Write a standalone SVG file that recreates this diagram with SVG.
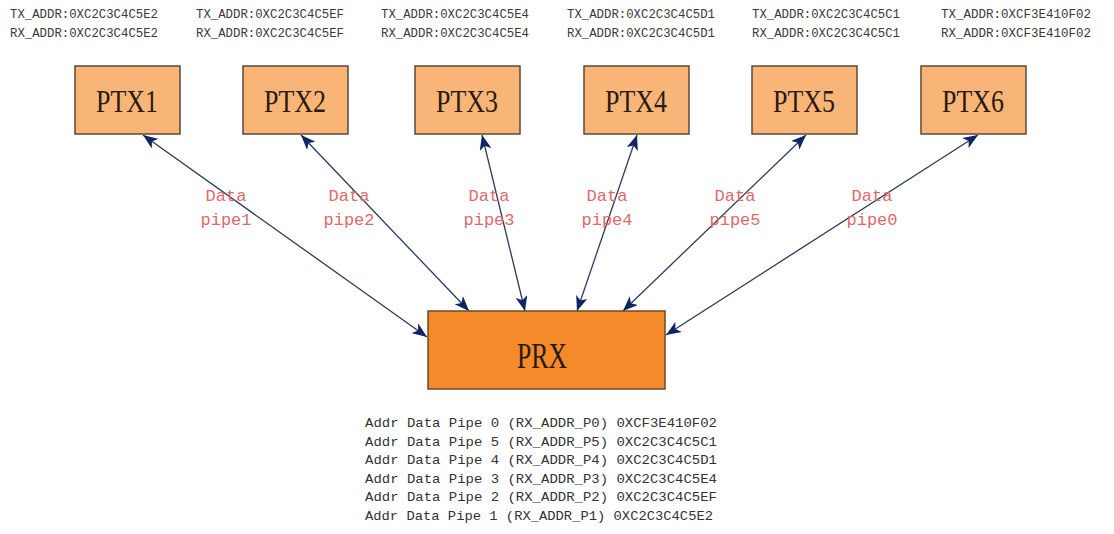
<svg xmlns="http://www.w3.org/2000/svg" width="1114" height="534" viewBox="0 0 1114 534">
<style>
.addr{font-family:"Liberation Mono","DejaVu Sans Mono",monospace;font-size:12px;fill:#3a3a3a}
.ptx{fill:#F9B478;stroke:#5a4a3c;stroke-width:1.5}
.prx{fill:#F48A2A;stroke:#6a4a2c;stroke-width:1.5}
.nlabel{font-family:"Liberation Serif","DejaVu Serif",serif;fill:#2a1a10;text-anchor:middle}
.conn{stroke:#2c3a5e;stroke-width:1.3;fill:none;marker-start:url(#ah);marker-end:url(#ah)}
.lbl{font-family:"Liberation Mono","DejaVu Sans Mono",monospace;font-size:17px;fill:#E06a6a;text-anchor:middle}
.tbl{font-family:"Liberation Mono","DejaVu Sans Mono",monospace;font-size:13.5px;fill:#333}
</style>
<defs>
<marker id="ah" markerUnits="userSpaceOnUse" markerWidth="16" markerHeight="12" refX="15" refY="6" orient="auto-start-reverse" viewBox="0 0 16 12">
<path d="M0,0 L15,6 L0,12 L4,6 z" fill="#0E2566"/>
</marker>
</defs>
<rect width="1114" height="534" fill="#ffffff"/>

<g id="addr-labels">
<text class="addr" x="10" y="18" textLength="148" lengthAdjust="spacingAndGlyphs">TX_ADDR:0XC2C3C4C5E2</text>
<text class="addr" x="10" y="37" textLength="148" lengthAdjust="spacingAndGlyphs">RX_ADDR:0XC2C3C4C5E2</text>
<text class="addr" x="196" y="18" textLength="148" lengthAdjust="spacingAndGlyphs">TX_ADDR:0XC2C3C4C5EF</text>
<text class="addr" x="196" y="37" textLength="148" lengthAdjust="spacingAndGlyphs">RX_ADDR:0XC2C3C4C5EF</text>
<text class="addr" x="381" y="18" textLength="148" lengthAdjust="spacingAndGlyphs">TX_ADDR:0XC2C3C4C5E4</text>
<text class="addr" x="381" y="37" textLength="148" lengthAdjust="spacingAndGlyphs">RX_ADDR:0XC2C3C4C5E4</text>
<text class="addr" x="567" y="18" textLength="148" lengthAdjust="spacingAndGlyphs">TX_ADDR:0XC2C3C4C5D1</text>
<text class="addr" x="567" y="37" textLength="148" lengthAdjust="spacingAndGlyphs">RX_ADDR:0XC2C3C4C5D1</text>
<text class="addr" x="752" y="18" textLength="148" lengthAdjust="spacingAndGlyphs">TX_ADDR:0XC2C3C4C5C1</text>
<text class="addr" x="752" y="37" textLength="148" lengthAdjust="spacingAndGlyphs">RX_ADDR:0XC2C3C4C5C1</text>
<text class="addr" x="941" y="18" textLength="150" lengthAdjust="spacingAndGlyphs">TX_ADDR:0XCF3E410F02</text>
<text class="addr" x="941" y="37" textLength="150" lengthAdjust="spacingAndGlyphs">RX_ADDR:0XCF3E410F02</text>
</g>

<g id="connectors">
<line class="conn" x1="143" y1="135" x2="427" y2="337"/>
<line class="conn" x1="301" y1="135" x2="469" y2="311"/>
<line class="conn" x1="482" y1="135" x2="525" y2="311"/>
<line class="conn" x1="637" y1="135" x2="577" y2="311"/>
<line class="conn" x1="806" y1="135" x2="623" y2="311"/>
<line class="conn" x1="978" y1="135" x2="666" y2="335"/>
</g>

<g id="edge-labels">
<text class="lbl" x="226" y="201">Data</text><text class="lbl" x="226" y="225">pipe1</text>
<text class="lbl" x="349" y="201">Data</text><text class="lbl" x="349" y="225">pipe2</text>
<text class="lbl" x="489" y="201">Data</text><text class="lbl" x="489" y="225">pipe3</text>
<text class="lbl" x="607" y="201">Data</text><text class="lbl" x="607" y="225">pipe4</text>
<text class="lbl" x="735" y="201">Data</text><text class="lbl" x="735" y="225">pipe5</text>
<text class="lbl" x="872" y="201">Data</text><text class="lbl" x="872" y="225">pipe0</text>
</g>

<g id="PTX1"><rect class="ptx" x="75" y="66" width="105" height="68"/><text class="nlabel" x="127" y="112" font-size="31" textLength="62" lengthAdjust="spacingAndGlyphs">PTX1</text></g>
<g id="PTX2"><rect class="ptx" x="243" y="66" width="105" height="68"/><text class="nlabel" x="295" y="112" font-size="31" textLength="62" lengthAdjust="spacingAndGlyphs">PTX2</text></g>
<g id="PTX3"><rect class="ptx" x="415" y="66" width="105" height="68"/><text class="nlabel" x="467" y="112" font-size="31" textLength="62" lengthAdjust="spacingAndGlyphs">PTX3</text></g>
<g id="PTX4"><rect class="ptx" x="584" y="66" width="105" height="68"/><text class="nlabel" x="636" y="112" font-size="31" textLength="62" lengthAdjust="spacingAndGlyphs">PTX4</text></g>
<g id="PTX5"><rect class="ptx" x="752" y="66" width="105" height="68"/><text class="nlabel" x="804" y="112" font-size="31" textLength="62" lengthAdjust="spacingAndGlyphs">PTX5</text></g>
<g id="PTX6"><rect class="ptx" x="921" y="66" width="105" height="68"/><text class="nlabel" x="973" y="112" font-size="31" textLength="62" lengthAdjust="spacingAndGlyphs">PTX6</text></g>

<g id="PRX"><rect class="prx" x="428" y="311" width="237" height="78"/><text class="nlabel" x="542" y="368" font-size="36" textLength="50" lengthAdjust="spacingAndGlyphs">PRX</text></g>

<g id="pipe-table">
<text class="tbl" x="365" y="427" textLength="352" lengthAdjust="spacingAndGlyphs">Addr Data Pipe 0 (RX_ADDR_P0) 0XCF3E410F02</text>
<text class="tbl" x="365" y="445.5" textLength="352" lengthAdjust="spacingAndGlyphs">Addr Data Pipe 5 (RX_ADDR_P5) 0XC2C3C4C5C1</text>
<text class="tbl" x="365" y="464" textLength="352" lengthAdjust="spacingAndGlyphs">Addr Data Pipe 4 (RX_ADDR_P4) 0XC2C3C4C5D1</text>
<text class="tbl" x="365" y="482.5" textLength="352" lengthAdjust="spacingAndGlyphs">Addr Data Pipe 3 (RX_ADDR_P3) 0XC2C3C4C5E4</text>
<text class="tbl" x="365" y="501" textLength="352" lengthAdjust="spacingAndGlyphs">Addr Data Pipe 2 (RX_ADDR_P2) 0XC2C3C4C5EF</text>
<text class="tbl" x="365" y="519.5" textLength="348" lengthAdjust="spacingAndGlyphs">Addr Data Pipe 1 (RX_ADDR_P1) 0XC2C3C4C5E2</text>
</g>
</svg>
